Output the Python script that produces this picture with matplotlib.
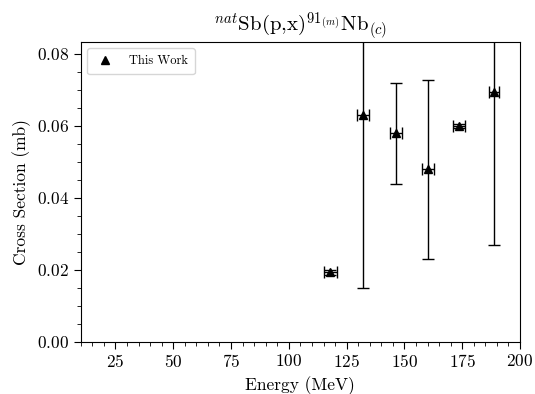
import matplotlib
matplotlib.use("Agg")
import matplotlib.pyplot as plt
from matplotlib.ticker import MultipleLocator

plt.rcParams["font.family"] = "serif"
plt.rcParams["font.serif"] = ["cmr10"]
plt.rcParams["mathtext.fontset"] = "cm"
plt.rcParams["axes.formatter.use_mathtext"] = True

# Measured cross sections
energy = [118.0, 132.0, 146.5, 160.2, 173.6, 188.7]
energy_err = [2.9, 2.6, 2.6, 2.6, 2.5, 2.3]
xs = [0.0192, 0.0628, 0.0578, 0.0478, 0.0599, 0.0693]
xs_err = [0.0006, 0.0478, 0.0141, 0.0249, 0.0006, 0.0425]

fig = plt.figure(figsize=(5.35, 3.94), dpi=100)
ax = fig.add_axes([0.151, 0.133, 0.821, 0.760])

ax.errorbar(energy, xs, xerr=energy_err, yerr=xs_err, fmt="none",
            ecolor="k", elinewidth=1.0, capsize=4.5, capthick=1.0)
ax.plot(energy, xs, "^", color="k", markersize=6, label="This Work")

ax.set_xlim(10, 200)
ax.set_ylim(0, max(xs) * 1.2)
ax.xaxis.set_major_locator(MultipleLocator(25))
ax.xaxis.set_minor_locator(MultipleLocator(5))
ax.yaxis.set_major_locator(MultipleLocator(0.02))
ax.yaxis.set_minor_locator(MultipleLocator(0.005))
ax.tick_params(which="both", direction="out", top=False, right=False,
               labelsize=12.5)
ax.tick_params(which="major", length=5)
ax.tick_params(which="minor", length=3)

ax.set_xlabel("Energy (MeV)", fontsize=12.5)
ax.set_ylabel("Cross Section (mb)", fontsize=12.5)
ax.set_title(r"$^{nat}$Sb(p,x)$^{91_{(m)}}$Nb$_{(c)}$", fontsize=15)

ax.legend(loc="upper left", fontsize=9, handletextpad=1.0, borderpad=0.55,
          handlelength=1.8, framealpha=0.8)

fig.savefig("out.png", dpi=100)
